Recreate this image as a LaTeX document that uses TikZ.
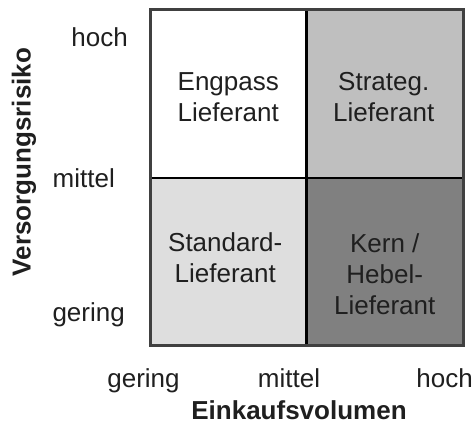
\documentclass[tikz,border=0pt]{standalone}
\usepackage{fontspec}
\setmainfont{Liberation Sans}
\usetikzlibrary{positioning}

\begin{document}
\begin{tikzpicture}[
    x=1pt, y=-1pt,
    node distance=0pt,
    feld/.style={
        draw=black,
        line width=2.5pt,
        minimum width=156.5pt,
        minimum height=168pt,
        inner sep=0pt,
        outer sep=0pt
    },
    feldtext/.style={align=center, text=black!88, font=\fontsize{26}{31}\selectfont},
    achse/.style={text=black!88, inner sep=0pt, font=\fontsize{26}{31}\selectfont},
    titel/.style={text=black!88, inner sep=0pt, font=\fontsize{26}{31}\selectfont\bfseries}
]
\useasboundingbox (0,0) rectangle (475,427);

% --- Felder ---
\node[feld, fill=white] (engpass) at (228.25,94) {};
\node[feld, fill=black!25, right=of engpass] (strateg) {};
\node[feld, fill=black!13, below=of engpass] (standard) {};
\node[feld, fill=black!50, right=of standard] (kern) {};

% --- Rahmen ---
\draw[black!75, line width=3pt] (engpass.north west) rectangle (kern.south east);

% --- Texte in den Feldern ---
\node[feldtext] (engpasstxt) at ([yshift=-3pt]engpass.center) {Engpass\\Lieferant};
\node[feldtext] (strategtxt) at ([xshift=-1pt, yshift=-3pt]strateg.center) {Strateg.\\Lieferant};
\node[feldtext] (standardtxt) at ([xshift=-3pt, yshift=4pt]standard.center) {Standard-\\Lieferant};
\node[feldtext] (kerntxt) at ([yshift=-12pt]kern.center) {Kern /\\Hebel-\\Lieferant};

% --- y-Achse ---
\node[achse, anchor=base east] (yhoch) at (128,47) {hoch};
\node[achse, anchor=base east] (ymittel) at (115,188) {mittel};
\node[achse, anchor=base east] (ygering) at (125,322) {gering};
\node[titel, rotate=90] (ytitel) at (24,162) {Versorgungsrisiko};

% --- x-Achse ---
\node[achse, anchor=base] (xgering) at (143.5,388) {gering};
\node[achse, anchor=base] (xmittel) at (289,388) {mittel};
\node[achse, anchor=base east] (xhoch) at (473,388) {hoch};
\node[titel, anchor=base] (xtitel) at (299,420) {Einkaufsvolumen};

\end{tikzpicture}
\end{document}
